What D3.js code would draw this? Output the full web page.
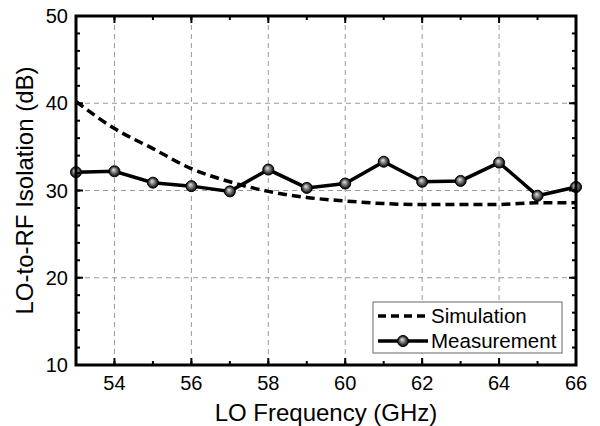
<!DOCTYPE html>
<html>
<head>
<meta charset="utf-8">
<script src="https://cdn.jsdelivr.net/npm/d3@7"></script>
<style>
  body { margin: 0; background: #fff; }
  text { font-family: "Liberation Sans", Arial, sans-serif; fill: #000; }
</style>
</head>
<body>
<div id="chart"></div>
<script>
// Data
const freqs = [53, 54, 55, 56, 57, 58, 59, 60, 61, 62, 63, 64, 65, 66];
const simulation = [40.2, 37.1, 34.8, 32.5, 31.0, 29.9, 29.2, 28.8, 28.5, 28.4, 28.4, 28.4, 28.6, 28.6];
const measurement = [32.1, 32.2, 30.9, 30.5, 29.9, 32.4, 30.3, 30.8, 33.3, 31.0, 31.1, 33.2, 29.4, 30.4];
const xTicks = [54, 56, 58, 60, 62, 64, 66];
const yTicks = [10, 20, 30, 40, 50];

const W = 600, H = 426;
const margin = { top: 16, right: 24, bottom: 61, left: 76 };
const width = W - margin.left - margin.right;
const height = H - margin.top - margin.bottom;

const svg = d3.select("#chart").append("svg")
    .attr("width", W)
    .attr("height", H);

// Marker gradient (shaded ball)
const defs = svg.append("defs");
const grad = defs.append("radialGradient")
    .attr("id", "ball")
    .attr("cx", "50%").attr("cy", "50%").attr("r", "50%")
    .attr("fx", "40%").attr("fy", "35%");
grad.append("stop").attr("offset", "0%").attr("stop-color", "#e8e8e8");
grad.append("stop").attr("offset", "45%").attr("stop-color", "#808080");
grad.append("stop").attr("offset", "100%").attr("stop-color", "#000");

const g = svg.append("g")
    .attr("transform", `translate(${margin.left},${margin.top})`);

const x = d3.scaleLinear().domain([53, 66]).range([0, width]);
const y = d3.scaleLinear().domain([10, 50]).range([height, 0]);

// Grid lines
const grid = g.append("g").attr("class", "grid");
grid.selectAll(".gx")
    .data(xTicks.filter(d => d < 66))
    .enter().append("line")
    .attr("x1", d => x(d)).attr("x2", d => x(d))
    .attr("y1", 0).attr("y2", height)
    .attr("stroke", "#999").attr("stroke-width", 1)
    .attr("stroke-dasharray", "5,4");
grid.selectAll(".gy")
    .data(yTicks.filter(d => d > 10 && d < 50))
    .enter().append("line")
    .attr("x1", 0).attr("x2", width)
    .attr("y1", d => y(d)).attr("y2", d => y(d))
    .attr("stroke", "#999").attr("stroke-width", 1)
    .attr("stroke-dasharray", "5,4");

// Simulation curve
g.append("path")
    .datum(freqs.map((f, i) => [f, simulation[i]]))
    .attr("fill", "none")
    .attr("stroke", "#000")
    .attr("stroke-width", 3.5)
    .attr("stroke-dasharray", "9,5")
    .attr("d", d3.line().x(d => x(d[0])).y(d => y(d[1])).curve(d3.curveMonotoneX));

// Measurement
const meas = freqs.map((f, i) => [f, measurement[i]]);
g.append("path")
    .datum(meas)
    .attr("fill", "none")
    .attr("stroke", "#000")
    .attr("stroke-width", 3.5)
    .attr("d", d3.line().x(d => x(d[0])).y(d => y(d[1])));
g.selectAll(".pt")
    .data(meas)
    .enter().append("circle")
    .attr("cx", d => x(d[0]))
    .attr("cy", d => y(d[1]))
    .attr("r", 5.5)
    .attr("fill", "url(#ball)")
    .attr("stroke", "#000")
    .attr("stroke-width", 1);

// Axes with inward ticks (major + minor), mirrored on top/right
const xMinor = d3.range(53, 67, 1);
const yMinor = d3.range(10, 51, 2);
function tickLines(sel, vals, len, orient) {
    sel.selectAll(null).data(vals).enter().append("line")
        .attr("stroke", "#000").attr("stroke-width", 2)
        .each(function (d) {
            const l = d3.select(this);
            if (orient === "bottom") l.attr("x1", x(d)).attr("x2", x(d)).attr("y1", height).attr("y2", height - len);
            if (orient === "top") l.attr("x1", x(d)).attr("x2", x(d)).attr("y1", 0).attr("y2", len);
            if (orient === "left") l.attr("y1", y(d)).attr("y2", y(d)).attr("x1", 0).attr("x2", len);
            if (orient === "right") l.attr("y1", y(d)).attr("y2", y(d)).attr("x1", width).attr("x2", width - len);
        });
}
const ticks = g.append("g");
tickLines(ticks, xMinor, 4, "bottom");
tickLines(ticks, xMinor, 4, "top");
tickLines(ticks, xTicks, 7, "bottom");
tickLines(ticks, xTicks, 7, "top");
tickLines(ticks, yMinor, 4, "left");
tickLines(ticks, yMinor, 4, "right");
tickLines(ticks, yTicks, 7, "left");
tickLines(ticks, yTicks, 7, "right");

// Frame
g.append("rect")
    .attr("x", 0).attr("y", 0)
    .attr("width", width).attr("height", height)
    .attr("fill", "none")
    .attr("stroke", "#000")
    .attr("stroke-width", 3);

// Tick labels
g.selectAll(".xl")
    .data(xTicks)
    .enter().append("text")
    .attr("x", d => x(d))
    .attr("y", height + 25)
    .attr("text-anchor", "middle")
    .attr("font-size", 20)
    .text(d => d);
g.selectAll(".yl")
    .data(yTicks)
    .enter().append("text")
    .attr("x", -8)
    .attr("y", d => y(d) + 7)
    .attr("text-anchor", "end")
    .attr("font-size", 20)
    .text(d => d);

// Axis titles
g.append("text")
    .attr("x", width / 2)
    .attr("y", height + 56)
    .attr("text-anchor", "middle")
    .attr("font-size", 24)
    .text("LO Frequency (GHz)");
g.append("text")
    .attr("transform", "rotate(-90)")
    .attr("x", -height / 2)
    .attr("y", -43)
    .attr("text-anchor", "middle")
    .attr("font-size", 24)
    .text("LO-to-RF Isolation (dB)");

// Legend
const lg = svg.append("g").attr("transform", "translate(373,302)");
lg.append("rect")
    .attr("width", 189).attr("height", 51)
    .attr("fill", "#fff")
    .attr("stroke", "#666")
    .attr("stroke-width", 1);
lg.append("line")
    .attr("x1", 5).attr("x2", 55).attr("y1", 14).attr("y2", 14)
    .attr("stroke", "#000").attr("stroke-width", 3.5)
    .attr("stroke-dasharray", "8,5");
lg.append("text").attr("x", 58).attr("y", 21).attr("font-size", 20.5).text("Simulation");
lg.append("line")
    .attr("x1", 5).attr("x2", 55).attr("y1", 39).attr("y2", 39)
    .attr("stroke", "#000").attr("stroke-width", 3.5);
lg.append("circle")
    .attr("cx", 30).attr("cy", 39).attr("r", 5.5)
    .attr("fill", "url(#ball)")
    .attr("stroke", "#000").attr("stroke-width", 1);
lg.append("text").attr("x", 58).attr("y", 46).attr("font-size", 20.5).text("Measurement");
</script>
</body>
</html>
